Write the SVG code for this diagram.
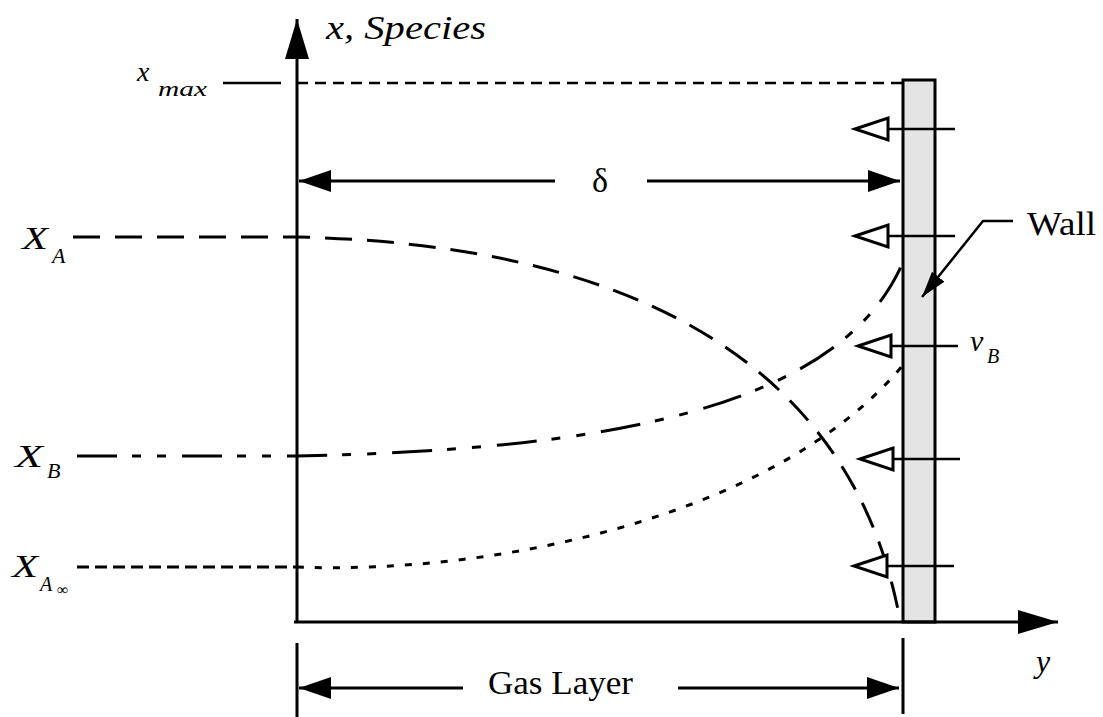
<svg xmlns="http://www.w3.org/2000/svg" width="1103" height="717" viewBox="0 0 1103 717">
<style>
.ln{stroke:#000;stroke-width:3;fill:none}
.thin{stroke:#000;stroke-width:2.5;fill:none}
.lbl{font-family:"Liberation Serif","DejaVu Serif",serif;fill:#000}
.it{font-style:italic}
</style>
<defs>
<marker id="ah" markerUnits="userSpaceOnUse" markerWidth="34" markerHeight="24" refX="32" refY="12" orient="auto"><path d="M0,1 L32,12 L0,23 Z" fill="#000"/></marker>
<marker id="axh" markerUnits="userSpaceOnUse" markerWidth="42" markerHeight="26" refX="40" refY="13" orient="auto"><path d="M0,1 L40,13 L0,25 Z" fill="#000"/></marker>
<marker id="wh" markerUnits="userSpaceOnUse" markerWidth="28" markerHeight="16" refX="26" refY="8" orient="auto"><path d="M0,0 L26,8 L0,16 Z" fill="#000"/></marker>
<g id="openArrow"><line x1="35" y1="0" x2="102" y2="0" class="thin"/><polygon points="2,0 35,-11 35,11" fill="#fff" stroke="#000" stroke-width="3"/></g>
</defs>

<g id="wall">
<rect x="903" y="80" width="32" height="542" fill="#e4e4e4" stroke="#000" stroke-width="3"/>
</g>

<g id="connectors">
<line x1="297" y1="622" x2="297" y2="19" class="ln" marker-end="url(#axh)"/>
<line x1="294" y1="622" x2="1058" y2="622" class="ln" marker-end="url(#axh)"/>
<line x1="223" y1="83" x2="281" y2="83" class="thin"/>
<line x1="297" y1="83" x2="903" y2="83" class="thin" stroke-dasharray="11 7"/>
<line x1="555" y1="181" x2="299" y2="181" class="ln" marker-end="url(#ah)"/>
<line x1="647" y1="181" x2="900" y2="181" class="ln" marker-end="url(#ah)"/>
<line x1="297" y1="643" x2="297" y2="717" class="ln"/>
<line x1="903" y1="638" x2="903" y2="714" class="ln"/>
<line x1="463" y1="688" x2="299" y2="688" class="ln" marker-end="url(#ah)"/>
<line x1="678" y1="688" x2="899" y2="688" class="ln" marker-end="url(#ah)"/>
<path d="M73,237 L297,237 C650,245 855,375 900,620" class="ln" stroke-dasharray="27 15"/>
<path d="M77,456 L297,456 C600,450 840,410 903,262" class="ln" stroke-dasharray="40 15 9 16 9 16"/>
<path d="M77,567 L297,567" class="ln" stroke-dasharray="12 6"/>
<path d="M297,567 C500,575 780,514 903,365" class="ln" stroke-dasharray="7 11"/>
<polyline points="1013,221 983,221 922,297" class="thin" marker-end="url(#wh)"/>
</g>

<g id="flux-arrows">
<use href="#openArrow" x="853" y="129"/>
<use href="#openArrow" x="853" y="236"/>
<use href="#openArrow" x="856" y="346"/>
<use href="#openArrow" x="858" y="459"/>
<use href="#openArrow" x="852" y="566"/>
</g>

<g id="labels">
<text class="lbl it" x="326" y="39" font-size="34" textLength="160" lengthAdjust="spacingAndGlyphs">x, Species</text>
<text class="lbl it" x="137" y="81" font-size="28">x</text>
<text class="lbl it" x="158" y="96" font-size="22" textLength="49" lengthAdjust="spacingAndGlyphs">max</text>
<text class="lbl" x="592" y="192" font-size="34">δ</text>
<text class="lbl it" x="22" y="249" font-size="32" textLength="26" lengthAdjust="spacingAndGlyphs">X</text>
<text class="lbl it" x="52" y="263" font-size="22">A</text>
<text class="lbl it" x="15" y="467" font-size="32" textLength="28" lengthAdjust="spacingAndGlyphs">X</text>
<text class="lbl it" x="47" y="478" font-size="22">B</text>
<text class="lbl it" x="12" y="577" font-size="32" textLength="26" lengthAdjust="spacingAndGlyphs">X</text>
<text class="lbl it" x="40" y="591" font-size="20">A</text>
<text class="lbl" x="57" y="595" font-size="16">∞</text>
<text class="lbl" x="1027" y="235" font-size="33" textLength="69" lengthAdjust="spacingAndGlyphs">Wall</text>
<text class="lbl it" x="970" y="351" font-size="30">v</text>
<text class="lbl it" x="987" y="363" font-size="20">B</text>
<text class="lbl" x="488" y="694" font-size="33" textLength="145" lengthAdjust="spacingAndGlyphs">Gas Layer</text>
<text class="lbl it" x="1036" y="672" font-size="32">y</text>
</g>
</svg>
